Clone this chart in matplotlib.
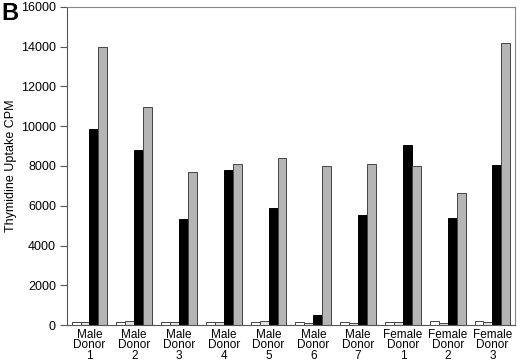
import numpy as np
import matplotlib
matplotlib.use('Agg')
import matplotlib.pyplot as plt

plt.rcParams['font.family'] = ['Liberation Sans', 'DejaVu Sans']

donors = ['Male\nDonor\n1', 'Male\nDonor\n2', 'Male\nDonor\n3', 'Male\nDonor\n4',
          'Male\nDonor\n5', 'Male\nDonor\n6', 'Male\nDonor\n7',
          'Female\nDonor\n1', 'Female\nDonor\n2', 'Female\nDonor\n3']
white = [140, 140, 130, 150, 150, 150, 150, 150, 180, 190]
light = [165, 180, 130, 150, 180, 100, 110, 150, 110, 150]
black = [9850, 8820, 5350, 7820, 5870, 520, 5550, 9070, 5380, 8070]
gray = [14000, 10970, 7690, 8090, 8390, 7990, 8100, 8000, 6640, 14200]

fig = plt.figure(figsize=(5.2, 3.62), dpi=100)
ax = fig.add_axes([0.129, 0.102, 0.861, 0.879])

x = np.arange(len(donors))
w = 0.2
ec = '#444444'
ax.bar(x - 1.5 * w, white, w, color='white', edgecolor=ec, linewidth=0.7)
ax.bar(x - 0.5 * w, light, w, color='#e2e2e2', edgecolor=ec, linewidth=0.7)
ax.bar(x + 0.5 * w, black, w, color='black', edgecolor='black', linewidth=0.7)
ax.bar(x + 1.5 * w, gray, w, color='#b5b5b5', edgecolor=ec, linewidth=0.7)

ax.set_xlim(-0.5, 9.5)
ax.set_ylim(0, 16000)
ax.set_yticks(range(0, 16001, 2000))
ax.set_xticks(x)
ax.set_xticklabels(donors, fontsize=8.5, linespacing=0.8)
ax.tick_params(axis='x', length=0, pad=3)
ax.tick_params(axis='y', length=5, width=0.8, labelsize=9, pad=3, color='#555555')
ax.set_ylabel('Thymidine Uptake CPM', fontsize=9, labelpad=3)

for s in ['top', 'right']:
    ax.spines[s].set_color('#888888')
    ax.spines[s].set_linewidth(0.8)
for s in ['left', 'bottom']:
    ax.spines[s].set_color('#555555')
    ax.spines[s].set_linewidth(0.8)

fig.text(0.002, 0.995, 'B', fontsize=17, fontweight='bold', va='top', ha='left')

fig.savefig('out.png', dpi=100)
